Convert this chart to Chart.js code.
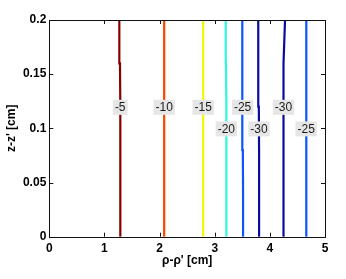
<!DOCTYPE html>
<html>
<head>
<meta charset="utf-8">
<script src="https://cdn.jsdelivr.net/npm/chart.js@4/dist/chart.umd.min.js"></script>
<style>
    html, body { margin: 0; padding: 0; background: #fff; }
    #wrap { width: 346px; height: 279px; }
</style>
</head>
<body>
<div id="wrap"><canvas id="contourChart"></canvas></div>
<script>
// contour lines: x (rho-rho') at each z-z' sample
const zSamples = [0, 0.04, 0.08, 0.12, 0.16, 0.2];
const xMinus5   = [1.290, 1.290, 1.288, 1.286, 1.282, 1.270];
const xMinus10  = [2.085, 2.085, 2.084, 2.083, 2.083, 2.082];
const xMinus15  = [2.790, 2.790, 2.790, 2.790, 2.790, 2.790];
const xMinus20  = [3.215, 3.214, 3.212, 3.208, 3.204, 3.200];
const xMinus25a = [3.515, 3.514, 3.510, 3.505, 3.500, 3.496];
const xMinus30a = [3.805, 3.805, 3.804, 3.800, 3.793, 3.786];
const xMinus30b = [4.243, 4.243, 4.245, 4.247, 4.255, 4.275];
const xMinus25b = [4.656, 4.656, 4.657, 4.660, 4.664, 4.668];

const contourLines = [xMinus5, xMinus10, xMinus15, xMinus20, xMinus25a, xMinus30a, xMinus30b, xMinus25b];
const levels = [-5, -10, -15, -20, -25, -30, -30, -25];
const labelZ = [0.1194, 0.1194, 0.1194, 0.0995, 0.1194, 0.0995, 0.1194, 0.0995];

const xTicks = [0, 1, 2, 3, 4, 5];
const yTicks = [0, 0.05, 0.1, 0.15, 0.2];

// jet-like colours per level
const levelColors = {
    '-5': '#870000',
    '-10': '#ff4200',
    '-15': '#f6f600',
    '-20': '#2cf8dc',
    '-25': '#0a55ff',
    '-30': '#0a0a9c'
};

const FONT = '"Liberation Sans", Arial, Helvetica, sans-serif';

// where a contour sits at a given z (linear between samples)
function xAtZ(xs, z) {
    for (let i = 0; i < zSamples.length - 1; i++) {
        if (z >= zSamples[i] && z <= zSamples[i + 1]) {
            const t = (z - zSamples[i]) / (zSamples[i + 1] - zSamples[i]);
            return xs[i] + t * (xs[i + 1] - xs[i]);
        }
    }
    return xs[xs.length - 1];
}

// contour labels in grey boxes, then the frame with inward ticks
const contourLabels = {
    id: 'contourLabels',
    afterDatasetsDraw(chart) {
        const ctx = chart.ctx;
        const xs = chart.scales.x;
        const ys = chart.scales.y;
        ctx.save();
        ctx.font = '12px ' + FONT;
        ctx.textAlign = 'center';
        ctx.textBaseline = 'middle';
        contourLines.forEach((line, i) => {
            const px = xs.getPixelForValue(xAtZ(line, labelZ[i]));
            const py = ys.getPixelForValue(labelZ[i]);
            const text = String(levels[i]);
            const w = ctx.measureText(text).width + 4;
            const h = 15;
            ctx.fillStyle = '#e6e6e6';
            ctx.fillRect(px - w / 2, py - h / 2, w, h);
            ctx.fillStyle = '#1a1a1a';
            ctx.fillText(text, px, py + 0.5);
        });
        ctx.restore();
    },
    afterDraw(chart) {
        const ctx = chart.ctx;
        const a = chart.chartArea;
        const xs = chart.scales.x;
        const ys = chart.scales.y;
        ctx.save();
        ctx.strokeStyle = '#111';
        ctx.lineWidth = 1;
        ctx.beginPath();
        xTicks.forEach(v => {
            const px = Math.round(xs.getPixelForValue(v)) + 0.5;
            ctx.moveTo(px, a.bottom);
            ctx.lineTo(px, a.bottom - 4);
            ctx.moveTo(px, a.top);
            ctx.lineTo(px, a.top + 4);
        });
        yTicks.forEach(v => {
            const py = Math.round(ys.getPixelForValue(v)) + 0.5;
            ctx.moveTo(a.left, py);
            ctx.lineTo(a.left + 4, py);
            ctx.moveTo(a.right, py);
            ctx.lineTo(a.right - 4, py);
        });
        ctx.stroke();
        ctx.strokeRect(Math.round(a.left) + 0.5, Math.round(a.top) + 0.5,
            Math.round(a.right - a.left), Math.round(a.bottom - a.top));
        ctx.restore();
    }
};

const datasets = contourLines.map((line, i) => ({
    label: String(levels[i]),
    data: zSamples.map((z, j) => ({ x: line[j], y: z })),
    showLine: true,
    borderColor: levelColors[levels[i]],
    borderWidth: 2.2,
    pointRadius: 0,
    fill: false
}));

new Chart(document.getElementById('contourChart'), {
    type: 'scatter',
    data: { datasets: datasets },
    options: {
        responsive: true,
        maintainAspectRatio: false,
        animation: false,
        events: [],
        layout: { padding: { top: 20, right: 21, left: 0, bottom: 0 } },
        plugins: {
            legend: { display: false },
            tooltip: { enabled: false }
        },
        scales: {
            x: {
                type: 'linear',
                min: 0,
                max: 5,
                afterFit: scale => { scale.height = 42.3; },
                afterBuildTicks: scale => { scale.ticks = xTicks.map(v => ({ value: v })); },
                grid: { display: false, drawTicks: false },
                border: { display: false },
                ticks: {
                    color: '#000',
                    padding: 5,
                    font: { family: FONT, size: 12, weight: 'bold' },
                    callback: v => String(v)
                },
                title: {
                    display: true,
                    text: 'ρ-ρ\' [cm]',
                    color: '#000',
                    font: { family: FONT, size: 12, weight: 'bold' },
                    padding: { top: 0, bottom: 11 }
                }
            },
            y: {
                type: 'linear',
                min: 0,
                max: 0.2,
                afterFit: scale => { scale.width = 49.3; },
                afterBuildTicks: scale => { scale.ticks = yTicks.map(v => ({ value: v })); },
                grid: { display: false, drawTicks: false },
                border: { display: false },
                ticks: {
                    color: '#000',
                    padding: 3,
                    font: { family: FONT, size: 12, weight: 'bold' },
                    callback: v => String(+v.toFixed(2))
                },
                title: {
                    display: true,
                    text: 'z-z\' [cm]',
                    color: '#000',
                    font: { family: FONT, size: 12, weight: 'bold' },
                    padding: { top: 4.8, bottom: 0 }
                }
            }
        }
    },
    plugins: [contourLabels]
});
</script>
</body>
</html>
